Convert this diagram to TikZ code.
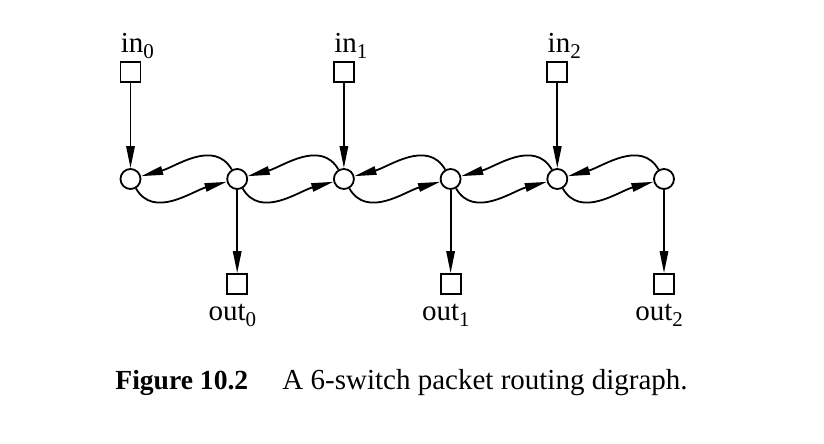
\documentclass[tikz,border=0pt]{standalone}
\usepackage{fontspec}
\setmainfont{Liberation Serif}
\usepackage{tikz}
\usetikzlibrary{arrows.meta, positioning}
\newcommand{\portsub}[1]{\raisebox{-2.8pt}{\fontsize{10.5}{12}\selectfont #1}}

\begin{document}
\begin{tikzpicture}[
  x=0.5pt, y=0.5pt,
  switch/.style={circle, draw, fill=white, line width=0.9pt, minimum size=10pt, inner sep=0pt},
  port/.style={rectangle, draw, fill=white, line width=0.9pt, minimum size=10pt, inner sep=0pt},
  lbl/.style={inner sep=0pt, font=\fontsize{14.5}{17}\selectfont},
  arrow/.style={-{Triangle[length=11pt, width=4.2pt]}, line width=0.9pt},
  every node/.style={align=center}
]
\useasboundingbox (0,0) rectangle (824,444);

% Switches
\foreach \i in {0,...,5}
  \node[switch] (sw\i) at ({130.5+106.7*\i}, 265) {};

% Input ports
\foreach \k/\s in {0/0, 1/2, 2/4} {
  \node[port] (in\k) at ({130.5+106.7*\s}, 372) {};
  \node[lbl, anchor=base west] (inlbl\k) at ({120.5+106.7*\s}, 391) {in\portsub{\k}};
  \draw[arrow] (in\k) -- (sw\s);
}

% Output ports
\foreach \k/\s in {0/1, 1/3, 2/5} {
  \node[port] (out\k) at ({130.5+106.7*\s}, 160) {};
  \node[lbl, anchor=base west] (outlbl\k) at ({101.5+106.7*\s}, 123) {out\portsub{\k}};
  \draw[arrow] (sw\s) -- (out\k);
}

% Links between neighbouring switches
\foreach \i [evaluate=\i as \j using int(\i+1)] in {0,...,4} {
  \draw[arrow] (sw\i) to[out=-60, in=195] (sw\j);
  \draw[arrow] (sw\j) to[out=120, in=15] (sw\i);
}

% Caption
\node[lbl, anchor=base west] (caption) at (115, 54)
  {{\fontsize{13.8}{17}\selectfont\bfseries Figure 10.2}\hspace{1.18em}A 6-switch packet routing digraph.};

\end{tikzpicture}
\end{document}
